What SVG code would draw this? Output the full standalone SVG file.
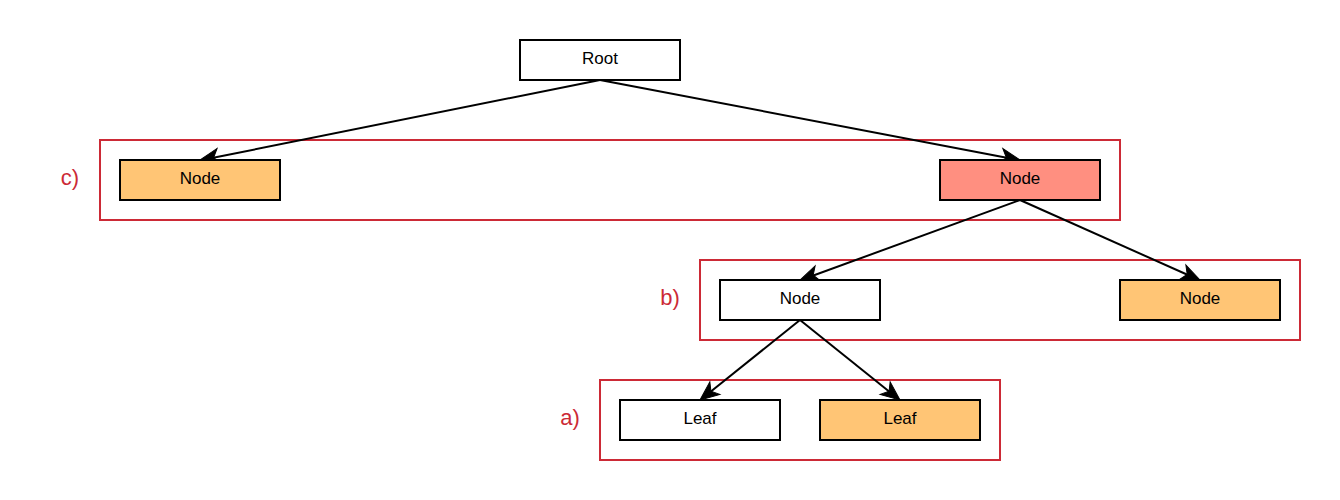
<svg xmlns="http://www.w3.org/2000/svg" width="1340" height="500" viewBox="0 0 1340 500">
<style>
.n{stroke:#000;stroke-width:2}
.w{fill:#fff}
.o{fill:#FFC575}
.r{fill:#FF8F80}
.g{fill:none;stroke:#CC2A36;stroke-width:2}
.t{font-family:"Liberation Sans",Arial,sans-serif;font-size:17px;fill:#000;text-anchor:middle}
.l{font-family:"Liberation Sans",Arial,sans-serif;font-size:22px;fill:#CC2A36;text-anchor:middle}
.e{stroke:#000;stroke-width:2;fill:none}
.h{fill:#000;stroke:#000;stroke-width:1}
</style>
<defs>
<path id="ah" d="M0,0 L-19,-8 L-14,0 L-19,8 Z"/>
</defs>
<g id="groups">
<rect class="g" x="100" y="140" width="1020" height="80"/>
<rect class="g" x="700" y="260" width="600" height="80"/>
<rect class="g" x="600" y="380" width="400" height="80"/>
<text class="l" x="70" y="185">c)</text>
<text class="l" x="670" y="305">b)</text>
<text class="l" x="570" y="425">a)</text>
</g>
<g id="connectors">
<line class="e" x1="600" y1="80" x2="212" y2="158"/>
<use class="h" href="#ah" transform="translate(200,160) rotate(168.69)"/>
<line class="e" x1="600" y1="80" x2="1008" y2="158"/>
<use class="h" href="#ah" transform="translate(1020,160) rotate(10.78)"/>
<line class="e" x1="1020" y1="200" x2="812" y2="276"/>
<use class="h" href="#ah" transform="translate(800,280) rotate(160.02)"/>
<line class="e" x1="1020" y1="200" x2="1188" y2="275"/>
<use class="h" href="#ah" transform="translate(1200,280) rotate(23.96)"/>
<line class="e" x1="800" y1="320" x2="709" y2="393"/>
<use class="h" href="#ah" transform="translate(700,400) rotate(141.34)"/>
<line class="e" x1="800" y1="320" x2="891" y2="393"/>
<use class="h" href="#ah" transform="translate(900,400) rotate(38.66)"/>
</g>
<g id="root"><rect class="n w" x="520" y="40" width="160" height="40"/><text class="t" x="600" y="64">Root</text></g>
<g id="node-c1"><rect class="n o" x="120" y="160" width="160" height="40"/><text class="t" x="200" y="184">Node</text></g>
<g id="node-c2"><rect class="n r" x="940" y="160" width="160" height="40"/><text class="t" x="1020" y="184">Node</text></g>
<g id="node-b1"><rect class="n w" x="720" y="280" width="160" height="40"/><text class="t" x="800" y="304">Node</text></g>
<g id="node-b2"><rect class="n o" x="1120" y="280" width="160" height="40"/><text class="t" x="1200" y="304">Node</text></g>
<g id="leaf-a1"><rect class="n w" x="620" y="400" width="160" height="40"/><text class="t" x="700" y="424">Leaf</text></g>
<g id="leaf-a2"><rect class="n o" x="820" y="400" width="160" height="40"/><text class="t" x="900" y="424">Leaf</text></g>
</svg>
